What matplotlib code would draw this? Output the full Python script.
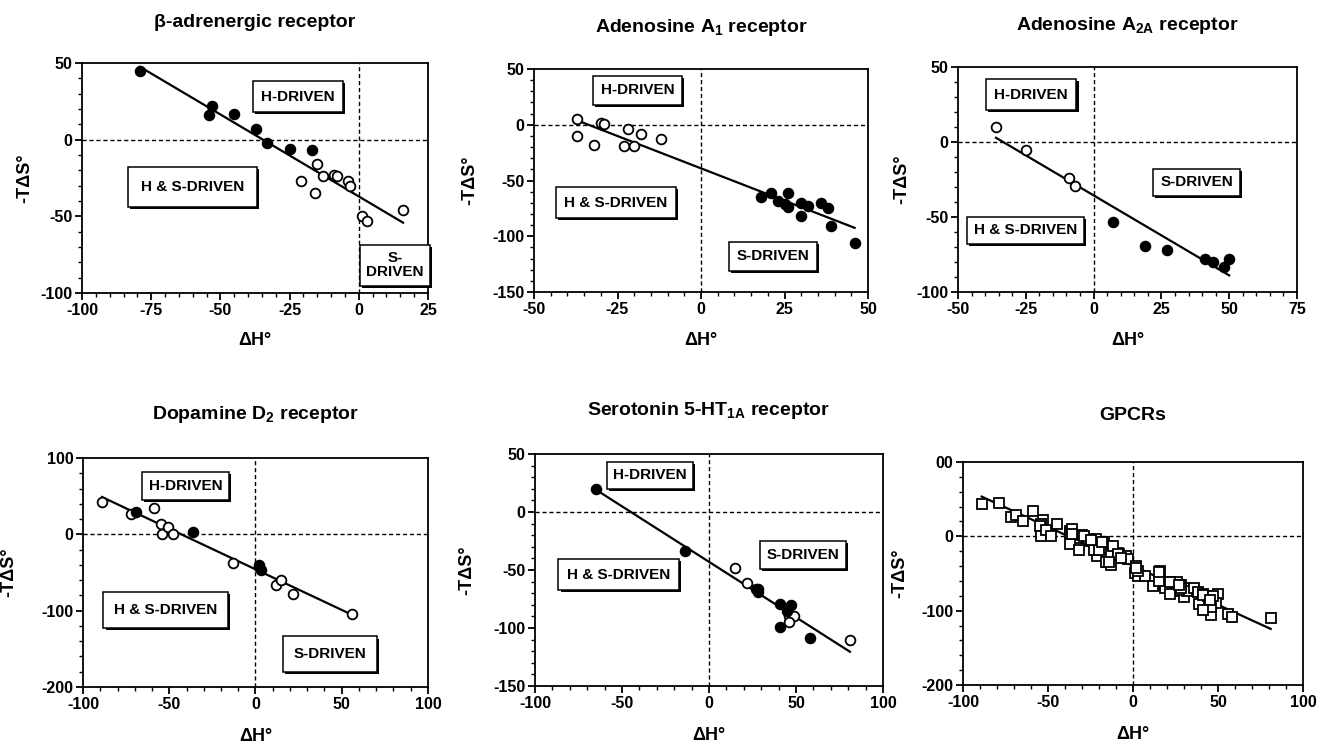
import numpy as np
import matplotlib
matplotlib.use("Agg")
import matplotlib.pyplot as plt
import matplotlib.patheffects as pe
from matplotlib.ticker import MultipleLocator

plt.rcParams['font.family'] = ['Liberation Sans', 'DejaVu Sans']
plt.rcParams['font.weight'] = 'bold'
plt.rcParams['axes.unicode_minus'] = False
plt.rcParams['mathtext.fontset'] = 'custom'
plt.rcParams['mathtext.rm'] = 'Liberation Sans:bold'
plt.rcParams['mathtext.it'] = 'Liberation Sans:bold'
plt.rcParams['mathtext.bf'] = 'Liberation Sans:bold'

# ---------------- data (ΔH°, -TΔS°) ----------------
beta_open_x = [-15, -21, -16, -13, -9, -8, -4, -3, 1, 3, 16]
beta_open_y = [-16, -27, -35, -24, -23, -24, -27, -30, -50, -53, -46]
beta_fill_x = [-79, -53, -54, -45, -37, -33, -25, -17]
beta_fill_y = [45, 22, 16, 17, 7, -2, -6, -7]

a1_open_x = [-37, -37, -32, -30, -29, -22, -23, -20, -18, -12]
a1_open_y = [5, -10, -18, 2, 1, -4, -19, -19, -8, -13]
a1_fill_x = [18, 21, 23, 25, 26, 26, 30, 30, 32, 36, 38, 39, 46]
a1_fill_y = [-65, -61, -68, -71, -74, -61, -70, -82, -73, -70, -75, -91, -106]

a2a_open_x = [-36, -25, -9, -7]
a2a_open_y = [10, -5, -24, -29]
a2a_fill_x = [7, 19, 27, 41, 44, 48, 50]
a2a_fill_y = [-53, -69, -72, -78, -80, -83, -78]

d2_open_x = [-89, -72, -59, -55, -54, -51, -48, -13, 12, 15, 22, 56]
d2_open_y = [43, 26, 34, 14, 1, 9, 1, -38, -67, -60, -78, -104]
d2_fill_x = [-69, -36, 2, 3, 2]
d2_fill_y = [29, 3, -40, -47, -43]

ht_open_x = [15, 22, 28, 46, 49, 46, 81]
ht_open_y = [-48, -61, -66, -90, -90, -95, -110]
ht_fill_x = [-65, -14, 28, 27, 41, 47, 45, 41, 58]
ht_fill_y = [20, -34, -69, -66, -79, -80, -85, -99, -109]

titles = [r"β-adrenergic receptor", r"Adenosine A$_{1}$ receptor",
          r"Adenosine A$_{2A}$ receptor", r"Dopamine D$_{2}$ receptor",
          r"Serotonin 5-HT$_{1A}$ receptor", "GPCRs"]
xlabel = "ΔH°"
ylabel = "-TΔS°"
gpcr_yticks = [-200, -100, 0, 100]
gpcr_yticklabels = ["-200", "-100", "0", "00"]

W, H = 1318, 745
fig = plt.figure(figsize=(W / 100, H / 100), dpi=100)

def make_ax(x0, x1, y0, y1):
    return fig.add_axes([x0 / W, 1 - y1 / H, (x1 - x0) / W, (y1 - y0) / H])

def style(ax, xlim, ylim, xmaj, xmin, ymaj, ymin, title, ylab_off, xlab_off, title_pad):
    ax.set_xlim(*xlim)
    ax.set_ylim(*ylim)
    ax.xaxis.set_major_locator(MultipleLocator(xmaj))
    ax.xaxis.set_minor_locator(MultipleLocator(xmin))
    ax.yaxis.set_major_locator(MultipleLocator(ymaj))
    ax.yaxis.set_minor_locator(MultipleLocator(ymin))
    ax.tick_params(which='major', direction='out', length=5, width=1.3,
                   labelsize=11.5, top=False, right=False, pad=2)
    ax.tick_params(which='minor', direction='out', length=3, width=1,
                   top=False, right=False)
    for lab in ax.get_xticklabels() + ax.get_yticklabels():
        lab.set_fontweight('bold')
    for s in ax.spines.values():
        s.set_linewidth(1.3)
    ax.axhline(0, color='black', lw=1, ls=(0, (3, 2)), zorder=1)
    ax.axvline(0, color='black', lw=1, ls=(0, (3, 2)), zorder=1)
    ax.set_title(title, fontsize=14, fontweight='bold', pad=title_pad)
    ax.set_ylabel(ylabel, fontsize=13, fontweight='bold')
    ax.set_xlabel(xlabel, fontsize=13, fontweight='bold')
    bb = ax.get_position()
    wpx = bb.width * W
    hpx = bb.height * H
    ax.yaxis.set_label_coords(-ylab_off / wpx, 0.5)
    ax.xaxis.set_label_coords(0.5, -xlab_off / hpx)

def fitline(ax, xs, ys):
    xs = np.asarray(xs, float)
    ys = np.asarray(ys, float)
    k, b = np.polyfit(xs, ys, 1)
    xx = np.array([xs.min(), xs.max()])
    ax.plot(xx, k * xx + b, color='black', lw=1.6, zorder=2)

def scatter(ax, ox, oy, fx, fy):
    ax.plot(ox, oy, 'o', ms=7, mfc='white', mec='black', mew=1.3, ls='none', zorder=3)
    ax.plot(fx, fy, 'o', ms=7, mfc='black', mec='black', mew=1.3, ls='none', zorder=3)

def label(ax, txt, x, y, padx=0.45, fs=11):
    t = ax.text(x, y, txt, ha='center', va='center', fontsize=fs, fontweight='bold',
                zorder=4, linespacing=1.0,
                bbox=dict(boxstyle=f'square,pad={padx}', fc='white', ec='black', lw=1.1))
    t.get_bbox_patch().set_path_effects([
        pe.SimplePatchShadow(offset=(1.5, -1.5), shadow_rgbFace='black', alpha=1.0),
        pe.Normal()])

panels = [
    (beta_open_x, beta_open_y, beta_fill_x, beta_fill_y),
    (a1_open_x, a1_open_y, a1_fill_x, a1_fill_y),
    (a2a_open_x, a2a_open_y, a2a_fill_x, a2a_fill_y),
    (d2_open_x, d2_open_y, d2_fill_x, d2_fill_y),
    (ht_open_x, ht_open_y, ht_fill_x, ht_fill_y),
]

# Panel 1
ax = make_ax(82, 428, 63, 293)
ox, oy, fx, fy = panels[0]
scatter(ax, ox, oy, fx, fy)
fitline(ax, ox + fx, oy + fy)
style(ax, (-100, 25), (-100, 50), 25, 5, 50, 10, titles[0], 49, 39, 26)
label(ax, "H-DRIVEN", -22, 28, 0.55)
label(ax, "H & S-DRIVEN", -60, -31, 0.85)
label(ax, "S-\nDRIVEN", 13, -82, 0.4)

# Panel 2
ax = make_ax(534, 868, 69, 292)
ox, oy, fx, fy = panels[1]
scatter(ax, ox, oy, fx, fy)
fitline(ax, ox + fx, oy + fy)
style(ax, (-50, 50), (-150, 50), 25, 5, 50, 10, titles[1], 56, 40, 27)
label(ax, "H-DRIVEN", -19, 31, 0.5)
label(ax, "H & S-DRIVEN", -25.5, -70, 0.55)
label(ax, "S-DRIVEN", 21.5, -118, 0.5)

# Panel 3
ax = make_ax(958, 1297, 67, 292)
ox, oy, fx, fy = panels[2]
scatter(ax, ox, oy, fx, fy)
fitline(ax, ox + fx, oy + fy)
style(ax, (-50, 75), (-100, 50), 25, 5, 50, 10, titles[2], 48, 40, 27)
label(ax, "H-DRIVEN", -23, 31.5, 0.55)
label(ax, "S-DRIVEN", 38, -27, 0.45)
label(ax, "H & S-DRIVEN", -25, -59, 0.45)

# Panel 4
ax = make_ax(83, 428, 458, 687)
ox, oy, fx, fy = panels[3]
scatter(ax, ox, oy, fx, fy)
fitline(ax, ox + fx, oy + fy)
style(ax, (-100, 100), (-200, 100), 50, 10, 100, 20, titles[3], 66, 41, 28)
label(ax, "H-DRIVEN", -40.5, 63, 0.45)
label(ax, "H & S-DRIVEN", -52, -99, 0.7)
label(ax, "S-DRIVEN", 43, -157, 0.7)

# Panel 5
ax = make_ax(535, 883, 454, 686)
ox, oy, fx, fy = panels[4]
scatter(ax, ox, oy, fx, fy)
fitline(ax, ox + fx, oy + fy)
style(ax, (-100, 100), (-150, 50), 50, 10, 50, 10, titles[4], 60, 41, 28)
label(ax, "H-DRIVEN", -34, 31.5, 0.4)
label(ax, "H & S-DRIVEN", -52, -54, 0.55)
label(ax, "S-DRIVEN", 54, -37, 0.45)

# Panel 6: all GPCRs
gx = sum([p[0] + p[2] for p in panels], [])
gy = sum([p[1] + p[3] for p in panels], [])
ax = make_ax(963, 1303, 462, 685)
ax.plot(gx, gy, 's', ms=7.5, mfc='white', mec='black', mew=1.3, ls='none', zorder=3)
fitline(ax, gx, gy)
style(ax, (-100, 100), (-200, 100), 50, 10, 100, 20, titles[5], 55, 41, 30)
ax.set_yticks(gpcr_yticks)
ax.set_yticklabels(gpcr_yticklabels, fontweight='bold')
ax.set_ylim(-200, 100)

fig.savefig("out.png", dpi=100)
